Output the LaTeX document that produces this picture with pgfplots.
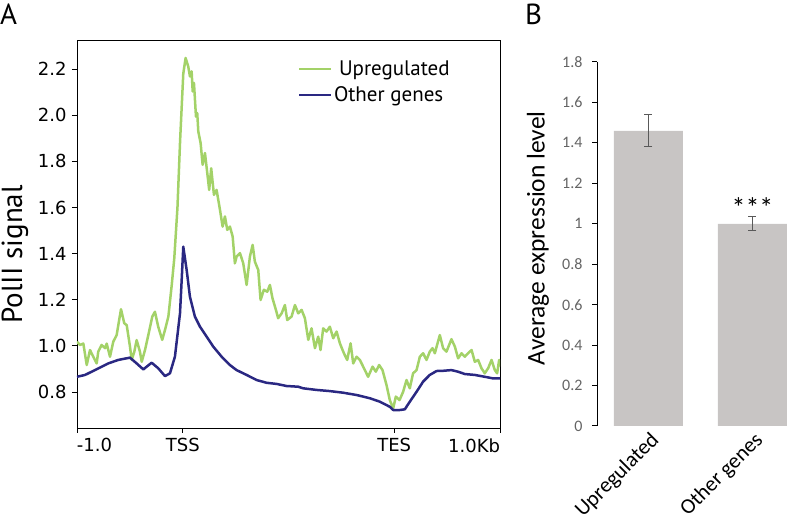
\documentclass[border=0pt]{standalone}
\usepackage{fontspec}
\setmainfont{DejaVu Sans}
\newfontfamily\carlito{Carlito}
\newfontfamily\ptsans{PT Sans}
\usepackage{pgfplots}
\pgfplotsset{compat=1.18}
\definecolor{upg}{RGB}{163,210,104}
\definecolor{oth}{RGB}{42,40,130}
\definecolor{barg}{RGB}{200,197,196}
\definecolor{tickg}{RGB}{89,89,89}
\definecolor{labg}{RGB}{100,100,100}

\pgfplotstableread{
x y
0 1.018
0.028 1.004
0.06 1.01
0.092 0.917
0.123 0.982
0.154 0.953
0.186 0.924
0.201 0.975
0.233 1.004
0.265 0.99
0.281 1.01
0.312 0.953
0.343 1.018
0.375 1.047
0.416 1.159
0.447 1.098
0.47 1.09
0.501 0.997
0.517 0.939
0.542 0.975
0.564 1.025
0.595 0.975
0.612 0.931
0.643 0.982
0.674 1.046
0.712 1.127
0.737 1.148
0.768 1.083
0.806 1.026
0.832 1.069
0.864 1.127
0.895 1.26
0.92 1.38
0.95 1.6
0.975 1.89
1.005 2.18
1.027 2.248
1.052 2.211
1.068 2.168
1.084 2.19
1.094 2.103
1.106 2.14
1.125 1.994
1.137 2.009
1.147 1.93
1.169 1.879
1.188 1.785
1.21 1.836
1.232 1.749
1.25 1.676
1.269 1.77
1.295 1.655
1.32 1.676
1.352 1.59
1.377 1.517
1.399 1.561
1.421 1.503
1.446 1.517
1.472 1.474
1.493 1.358
1.509 1.387
1.541 1.402
1.572 1.358
1.604 1.264
1.635 1.387
1.661 1.438
1.682 1.365
1.714 1.329
1.736 1.199
1.767 1.243
1.799 1.235
1.824 1.264
1.849 1.206
1.881 1.156
1.902 1.12
1.935 1.141
1.966 1.177
1.988 1.112
2.029 1.127
2.061 1.177
2.092 1.141
2.124 1.156
2.155 1.12
2.187 1.026
2.218 1.076
2.25 0.99
2.281 1.04
2.303 0.982
2.328 1.076
2.36 1.062
2.391 1.083
2.423 1.033
2.455 1.062
2.486 1.011
2.524 0.968
2.555 0.939
2.587 1.011
2.612 0.924
2.644 0.953
2.675 0.939
2.706 0.91
2.753 0.866
2.795 0.91
2.826 0.888
2.857 0.917
2.889 0.895
2.927 0.83
2.958 0.765
2.99 0.729
3.015 0.78
3.05 0.765
3.084 0.801
3.116 0.852
3.147 0.816
3.178 0.881
3.211 0.895
3.242 0.953
3.273 0.968
3.305 0.939
3.336 0.975
3.362 0.99
3.384 0.968
3.405 1.004
3.431 1.047
3.462 0.99
3.494 0.975
3.519 1.004
3.541 1.029
3.573 0.997
3.604 0.946
3.636 0.968
3.667 0.953
3.698 0.968
3.731 0.982
3.762 0.931
3.793 0.939
3.825 0.903
3.856 0.881
3.888 0.903
3.92 0.939
3.951 0.895
3.973 0.881
3.992 0.939
4.0 0.91
}\upreg

\pgfplotstableread{
x y
0 0.866
0.076 0.874
0.17 0.895
0.296 0.924
0.39 0.939
0.501 0.949
0.564 0.924
0.627 0.898
0.706 0.927
0.768 0.903
0.832 0.869
0.879 0.881
0.926 0.953
0.974 1.141
0.99 1.286
1.005 1.43
1.037 1.329
1.068 1.213
1.115 1.127
1.163 1.083
1.226 1.04
1.288 0.997
1.368 0.953
1.446 0.917
1.509 0.895
1.604 0.874
1.698 0.852
1.793 0.84
1.888 0.835
1.982 0.826
2.092 0.823
2.139 0.816
2.266 0.809
2.391 0.804
2.517 0.797
2.644 0.787
2.769 0.773
2.864 0.758
2.958 0.736
2.99 0.722
3.053 0.722
3.1 0.725
3.147 0.758
3.211 0.801
3.273 0.845
3.336 0.874
3.4 0.891
3.462 0.892
3.541 0.895
3.604 0.888
3.667 0.878
3.762 0.874
3.856 0.866
3.935 0.859
4.0 0.859
}\other

\pgfplotstableread{
x y err
0 1.46 0.08
1 1.00 0.035
}\expr

\begin{document}
\begin{tikzpicture}
\path[use as bounding box] (0pt,0pt) rectangle (787pt,522pt);
\node[anchor=north west, inner sep=0pt, font=\ptsans\fontsize{29}{29}\selectfont] at (0pt,518pt) {A};
\node[anchor=north west, inner sep=0pt, font=\ptsans\fontsize{29}{29}\selectfont] at (525pt,518pt) {B};

\begin{axis}[
  at={(77pt,94pt)}, anchor=south west,
  width=423pt, height=388pt, scale only axis,
  xmin=0, xmax=4, ymin=0.644, ymax=2.326,
  axis line style={black, line width=0.9pt},
  xtick={0,1,3,4},
  xticklabels={\makebox[0pt][l]{-1.0}, TSS, TES, \makebox[0pt][r]{1.0Kb}},
  ytick={0.8,1.0,1.2,1.4,1.6,1.8,2.0,2.2},
  yticklabel={\pgfmathprintnumber[fixed,fixed zerofill,precision=1]{\tick}},
  /pgf/number format/assume math mode=true,
  tick label style={font=\fontsize{18}{18}\selectfont},
  yticklabel style={xshift=-2pt},
  xticklabel style={yshift=-2pt},
  xtick pos=bottom, ytick pos=left, tick align=outside,
  major tick length=5pt,
  tick style={black, line width=0.9pt},
  ylabel={\ptsans\fontsize{29}{29}\selectfont PolII signal},
  ylabel style={at={(axis description cs:-0.147,0.448)}, anchor=center, inner sep=0pt},
  legend style={at={(rel axis cs:0.522,0.952)}, anchor=north west, draw=none, fill=none,
    inner sep=0pt, font=\ptsans\fontsize{21}{21}\selectfont,
    /tikz/every even column/.append style={column sep=12pt},
    row sep=6pt},
  legend cell align=left,
  legend image code/.code={\draw[#1, line width=2pt] (0pt,0pt) -- (32pt,0pt);},
]
\addplot[upg, line width=2.5pt, line join=round] table[x=x,y=y] {\upreg};
\addlegendentry{\hspace{5pt}Upregulated}
\addplot[oth, line width=2.5pt, line join=round] table[x=x,y=y] {\other};
\addlegendentry{Other genes}
\end{axis}

\begin{axis}[
  at={(597pt,96pt)}, anchor=south west,
  width=190pt, height=364pt, scale only axis,
  xmin=-0.495, xmax=1.332, ymin=0, ymax=1.8,
  axis lines=left,
  axis line style={-},
  x axis line style={draw=none},
  y axis line style={black, line width=1pt},
  ybar, bar width=69pt,
  xtick={0,1},
  xticklabels={Upregulated, Other genes},
  xtick style={draw=none},
  xticklabel style={rotate=45, anchor=north east, font=\carlito\fontsize{21.5}{21.5}\selectfont, inner sep=2pt, xshift=3pt, yshift=2pt},
  ytick={0,0.2,0.4,0.6,0.8,1,1.2,1.4,1.6,1.8},
  /pgf/number format/assume math mode=true,
  yticklabel style={font=\carlito\fontsize{16}{16}\selectfont, text=labg, xshift=-6pt},
  ytick style={black, line width=1pt},
  tick align=outside, major tick length=5pt,
  ylabel={\carlito\fontsize{25.5}{25.5}\selectfont Average expression level},
  ylabel style={at={(axis description cs:-0.3105,0.516)}, anchor=center},
]
\addplot[fill=barg, draw=none,
  error bars/.cd, y dir=both, y explicit,
  error bar style={tickg, line width=1pt},
  error mark options={rotate=90, tickg, line width=1pt, mark size=4pt}]
  table[x=x, y=y, y error=err] {\expr};
\node[font=\carlito\fontsize{28}{28}\selectfont, anchor=center] at (axis cs:1,1.08) {***};
\end{axis}
\end{tikzpicture}
\end{document}
